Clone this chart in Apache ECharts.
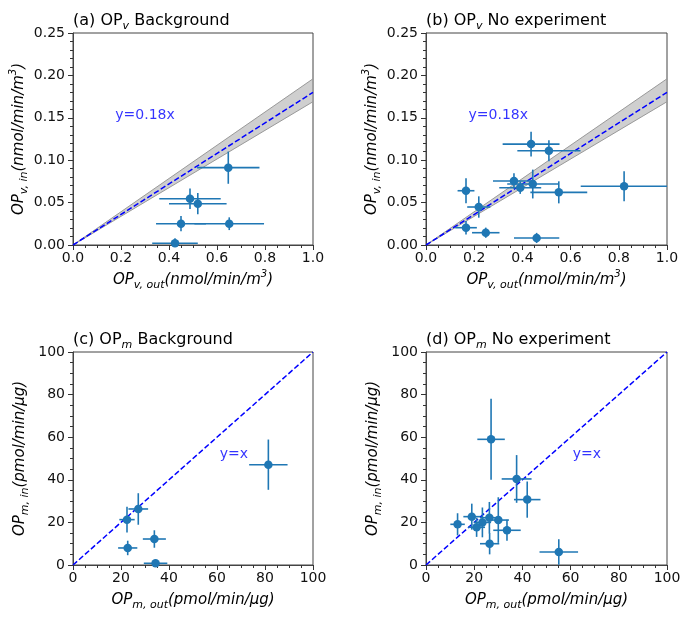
<!DOCTYPE html>
<html><head><meta charset="utf-8">
<script src="https://cdn.jsdelivr.net/npm/echarts@6/dist/echarts.min.js"></script>
<style>html,body{margin:0;padding:0;background:#fff}#c{width:687px;height:619px}</style>
</head><body><div id="c"></div>
<script>
// ---- data: [x, y, xerr, yerr] per panel ----
const aX    = [0.647, 0.4875, 0.52, 0.45, 0.651, 0.425];
const aY    = [0.0912, 0.0546, 0.0487, 0.0251, 0.0251, 0.002];
const aXerr = [0.13, 0.128, 0.12, 0.104, 0.145, 0.095];
const aYerr = [0.019, 0.012, 0.0125, 0.009, 0.0075, 0.006];

const bX    = [0.436, 0.510, 0.365, 0.443, 0.391, 0.551, 0.166, 0.219, 0.166, 0.248, 0.459, 0.822];
const bY    = [0.119, 0.1112, 0.0755, 0.0719, 0.0676, 0.0621, 0.064, 0.0448, 0.0204, 0.0145, 0.0083, 0.0692];
const bXerr = [0.118, 0.131, 0.087, 0.106, 0.087, 0.118, 0.035, 0.048, 0.045, 0.057, 0.094, 0.18];
const bYerr = [0.0145, 0.0124, 0.009, 0.017, 0.0073, 0.013, 0.0147, 0.0126, 0.0079, 0.006, 0.006, 0.0177];

const cX    = [81.4, 27.2, 22.5, 22.8, 33.9, 34.4];
const cY    = [47.1, 26.3, 21.3, 8.0, 12.2, 0.8];
const cXerr = [8, 4.1, 3.2, 4, 4.8, 4.9];
const cYerr = [11.8, 7.4, 6.1, 3.4, 4.1, 1.5];

const dX    = [27.0, 37.6, 42.0, 13.1, 19.0, 21.0, 23.4, 26.3, 30.0, 33.6, 26.4, 55.1];
const dY    = [59.0, 40.4, 30.7, 19.1, 22.7, 17.7, 20.0, 22.2, 21.1, 16.3, 10.0, 6.1];
const dXerr = [5.7, 6.2, 5.5, 3, 3.5, 3.5, 3.6, 3.9, 4.4, 5.7, 4, 8];
const dYerr = [19, 11.2, 8.5, 5.2, 6.1, 4.5, 7, 7.4, 10.7, 4.9, 5, 6];

// fit lines and confidence bands
const fitV   = [[0, 0], [1, 0.18]];
const bandVx = [0, 1];
const bandVlo = [0, 0.169];
const bandVhi = [0, 0.196];
const fitM   = [[0, 0], [100, 100]];

const titleMain = ['(a) OP', '(b) OP', '(c) OP', '(d) OP'];
const titleSub  = ['v', 'v', 'm', 'm'];
const titleRest = [' Background', ' No experiment', ' Background', ' No experiment'];
const fitTexts = ['y=0.18x', 'y=0.18x', 'y=x', 'y=x'];

const FONT = 'DejaVu Sans';
const BLUE = '#1f77b4';
const AX = '#333';

const grids = [
  {left: 73, top: 33, width: 240, height: 212},
  {left: 426, top: 33, width: 241, height: 212},
  {left: 73, top: 352, width: 240, height: 213},
  {left: 426, top: 352, width: 241, height: 213}
].map(g => Object.assign(g, {show: true, borderColor: '#444', borderWidth: 1, backgroundColor: 'transparent'}));

const nameRich = {
  i: {fontFamily: FONT, fontStyle: 'italic', fontSize: 15, color: '#000', lineHeight: 22, verticalAlign: 'middle'},
  sub: {fontFamily: FONT, fontStyle: 'italic', fontSize: 11, color: '#000', lineHeight: 10, verticalAlign: 'bottom'},
  sup: {fontFamily: FONT, fontStyle: 'italic', fontSize: 10, color: '#000', lineHeight: 10, verticalAlign: 'top'}
};

function xAxis(gi, max, interval, name, dec) {
  return {
    type: 'value', gridIndex: gi, min: 0, max: max, interval: interval,
    name: name, nameLocation: 'middle', nameGap: 24,
    nameTextStyle: {rich: nameRich},
    axisLine: {show: true, lineStyle: {color: '#444', width: 1}},
    axisTick: {show: true, inside: false, length: 5, lineStyle: {color: AX, width: 1}},
    minorTick: {show: true, splitNumber: 4, length: 3, lineStyle: {color: AX, width: 1}},
    splitLine: {show: false}, minorSplitLine: {show: false},
    axisLabel: {fontFamily: FONT, fontSize: 14, color: '#111', margin: 6,
      formatter: v => dec ? v.toFixed(dec) : String(Math.round(v))}
  };
}
function yAxis(gi, max, interval, name, dec, minorSplit) {
  return {
    type: 'value', gridIndex: gi, min: 0, max: max, interval: interval,
    name: name, nameLocation: 'middle', nameGap: 42, nameRotate: 90,
    nameTextStyle: {rich: nameRich},
    axisLine: {show: true, lineStyle: {color: '#444', width: 1}},
    axisTick: {show: true, inside: false, length: 5, lineStyle: {color: AX, width: 1}},
    minorTick: {show: true, splitNumber: minorSplit, length: 3, lineStyle: {color: AX, width: 1}},
    splitLine: {show: false}, minorSplitLine: {show: false},
    axisLabel: {fontFamily: FONT, fontSize: 14, color: '#111', margin: 8,
      formatter: v => dec ? v.toFixed(dec) : String(Math.round(v))}
  };
}

const xNameV = '{i|OP}{sub|v, out}{i|(nmol/min/m}{sup|3}{i|)}';
const yNameV = '{i|OP}{sub|v, in}{i|(nmol/min/m}{sup|3}{i|)}';
const xNameM = '{i|OP}{sub|m, out}{i|(pmol/min/μg)}';
const yNameM = '{i|OP}{sub|m, in}{i|(pmol/min/μg)}';

const xAxes = [
  xAxis(0, 1, 0.2, xNameV, 1), xAxis(1, 1, 0.2, xNameV, 1),
  xAxis(2, 100, 20, xNameM, 0), xAxis(3, 100, 20, xNameM, 0)
];
const yAxes = [
  yAxis(0, 0.25, 0.05, yNameV, 2, 5), yAxis(1, 0.25, 0.05, yNameV, 2, 5),
  yAxis(2, 100, 20, yNameM, 0, 4), yAxis(3, 100, 20, yNameM, 0, 4)
];

function zip(xs, ys, xe, ye) { return xs.map((x, i) => [x, ys[i], xe[i], ye[i]]); }
const panels = [zip(aX, aY, aXerr, aYerr), zip(bX, bY, bXerr, bYerr), zip(cX, cY, cXerr, cYerr), zip(dX, dY, dXerr, dYerr)];

function errSeries(gi, data) {
  return {
    type: 'custom', xAxisIndex: gi, yAxisIndex: gi, data: data, clip: true, z: 3, silent: true,
    renderItem: function (params, api) {
      const x = api.value(0), y = api.value(1), xe = api.value(2), ye = api.value(3);
      const l = api.coord([x - xe, y]), r = api.coord([x + xe, y]);
      const b = api.coord([x, y - ye]), t = api.coord([x, y + ye]);
      const st = {stroke: BLUE, lineWidth: 1.6};
      return {type: 'group', children: [
        {type: 'line', shape: {x1: l[0], y1: l[1], x2: r[0], y2: r[1]}, style: st},
        {type: 'line', shape: {x1: b[0], y1: b[1], x2: t[0], y2: t[1]}, style: st}
      ]};
    }
  };
}
function ptSeries(gi, data) {
  return {type: 'scatter', xAxisIndex: gi, yAxisIndex: gi, data: data.map(d => [d[0], d[1]]),
    symbol: 'circle', symbolSize: 8.5, itemStyle: {color: BLUE, opacity: 1}, z: 4, silent: true, clip: true};
}
function bandSeries(gi) {
  return {
    type: 'custom', xAxisIndex: gi, yAxisIndex: gi, data: [0], clip: true, z: 1, silent: true,
    renderItem: function (params, api) {
      const pts = [];
      for (let i = 0; i < bandVx.length; i++) pts.push(api.coord([bandVx[i], bandVhi[i]]));
      for (let i = bandVx.length - 1; i >= 0; i--) pts.push(api.coord([bandVx[i], bandVlo[i]]));
      const hi = bandVx.map((x, i) => api.coord([x, bandVhi[i]]));
      const lo = bandVx.map((x, i) => api.coord([x, bandVlo[i]]));
      return {type: 'group', children: [
        {type: 'polygon', shape: {points: pts}, style: {fill: 'rgba(160,160,160,0.5)'}},
        {type: 'polyline', shape: {points: hi}, style: {stroke: '#999', lineWidth: 1, fill: null}},
        {type: 'polyline', shape: {points: lo}, style: {stroke: '#999', lineWidth: 1, fill: null}}
      ]};
    }
  };
}
function fitSeries(gi, data) {
  return {type: 'line', xAxisIndex: gi, yAxisIndex: gi, data: data, symbol: 'none', z: 2, silent: true,
    lineStyle: {color: '#0000ff', width: 1.5, type: [5.5, 2.5]}};
}
function textSeries(gi, pos, txt) {
  return {type: 'scatter', xAxisIndex: gi, yAxisIndex: gi, data: [pos], symbolSize: 1, silent: true, z: 5,
    itemStyle: {color: 'transparent'},
    label: {show: true, position: 'inside', formatter: txt, color: '#0000ff', fontFamily: FONT, fontSize: 14}};
}

const series = [];
const textPos = [[0.30, 0.153], [0.30, 0.153], [67, 51.8], [66.8, 52]];
for (let gi = 0; gi < 4; gi++) {
  if (gi < 2) { series.push(bandSeries(gi)); series.push(fitSeries(gi, fitV)); }
  else series.push(fitSeries(gi, fitM));
  series.push(errSeries(gi, panels[gi]));
  series.push(ptSeries(gi, panels[gi]));
  series.push(textSeries(gi, textPos[gi], fitTexts[gi]));
}

const titleRich = {
  t: {fontFamily: FONT, fontSize: 16, fontWeight: 'normal', color: '#000', lineHeight: 22, verticalAlign: 'middle'},
  s: {fontFamily: FONT, fontStyle: 'italic', fontWeight: 'normal', fontSize: 11, color: '#000', lineHeight: 10, verticalAlign: 'bottom'}
};
const titlePos = [[73, 5], [426, 5], [73, 324], [426, 324]];
const title = titleMain.map((t, i) => ({
  text: '{t|' + t + '}{s|' + titleSub[i] + '}{t|' + titleRest[i] + '}',
  left: titlePos[i][0] - 5, top: titlePos[i][1],
  textStyle: {fontWeight: 'normal', rich: titleRich}
}));

const chart = echarts.init(document.getElementById('c'), null, {renderer: 'canvas'});
chart.setOption({
  animation: false, backgroundColor: '#fff',
  title: title, grid: grids, xAxis: xAxes, yAxis: yAxes, series: series
});
</script></body></html>
